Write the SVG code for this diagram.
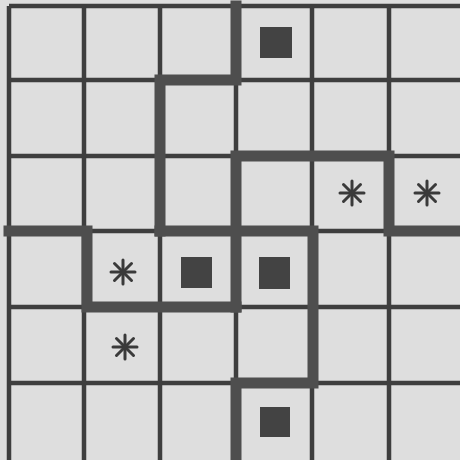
<svg xmlns="http://www.w3.org/2000/svg" width="460" height="460" viewBox="0 0 460 460">
<style>
.thin{stroke:#3e3e3e;stroke-width:4.5;fill:none}
.thick{stroke:#4e4e4e;stroke-width:11;fill:none;stroke-linecap:square;stroke-linejoin:miter}
.sq{fill:#434343}
.star{stroke:#3a3a3a;stroke-width:3;stroke-linecap:round}
</style>
<defs>
<g id="star">
<line class="star" x1="-12" y1="0" x2="12" y2="0"/>
<line class="star" x1="0" y1="-12" x2="0" y2="12"/>
<line class="star" x1="-8.5" y1="-8.5" x2="8.5" y2="8.5"/>
<line class="star" x1="-8.5" y1="8.5" x2="8.5" y2="-8.5"/>
</g>
</defs>
<rect x="0" y="0" width="460" height="460" fill="#dedede"/>
<g id="grid">
<path class="thin" d="M9,6 H460 M9,80 H460 M9,156 H460 M9,231 H460 M9,307 H460 M9,383 H460"/>
<path class="thin" d="M9,6 V460 M84,6 V460 M160,6 V460 M236,6 V460 M312,6 V460 M389,6 V460"/>
</g>
<g id="walls">
<path class="thick" d="M236,6 V80 H160 V231"/>
<path class="thick" d="M9,231 H87 V307 H236"/>
<path class="thick" d="M160,231 H313 V383 H236 V460"/>
<path class="thick" d="M236,307 V156 H389 V231 H460"/>
</g>
<g id="squares">
<rect class="sq" x="260" y="27" width="32" height="31"/>
<rect class="sq" x="181" y="257" width="31" height="31"/>
<rect class="sq" x="259" y="257" width="31" height="32"/>
<rect class="sq" x="260" y="407" width="30" height="30"/>
</g>
<g id="stars">
<use href="#star" x="352" y="193"/>
<use href="#star" x="427" y="193"/>
<use href="#star" x="123" y="272"/>
<use href="#star" x="125" y="347"/>
</g>
</svg>
